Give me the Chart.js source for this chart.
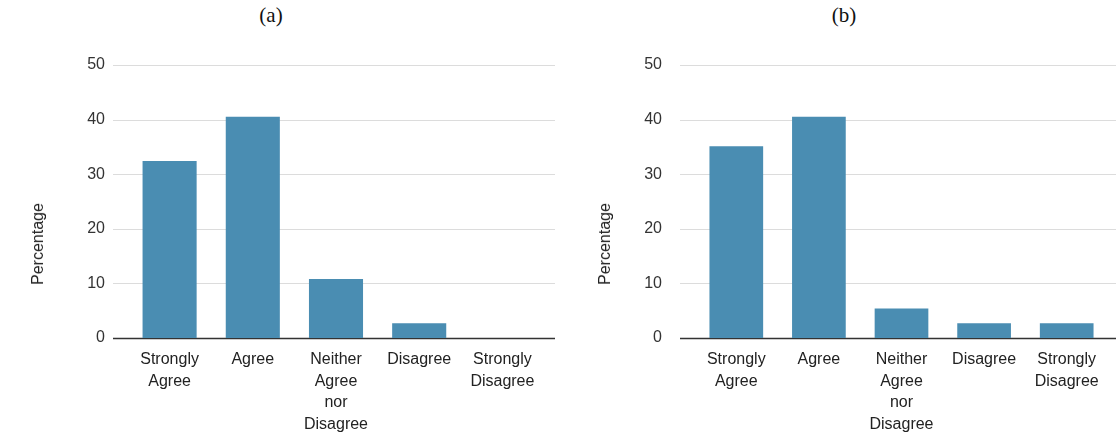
<!DOCTYPE html>
<html>
<head>
<meta charset="utf-8">
<script src="https://cdn.jsdelivr.net/npm/chart.js@4/dist/chart.umd.min.js"></script>
<style>
  body { margin: 0; background: #fff; width: 1116px; height: 436px; overflow: hidden; position: relative; }
  .title { position: absolute; top: 3px; font-family: 'Liberation Serif', 'Times New Roman', serif; font-size: 21px; color: #111; transform: translateX(-50%); }
  .box { position: absolute; top: 0; width: 558px; height: 436px; }
  .ylab { position: absolute; top: 244px; font-family: 'Liberation Sans', Arial, sans-serif; font-size: 16px; color: #222;
          white-space: nowrap; transform: translate(-50%, -50%) rotate(-90deg); z-index: 2; }
</style>
</head>
<body>
<div class="title" style="left:271px">(a)</div>
<div class="title" style="left:844px">(b)</div>
<div class="box" style="left:0"><canvas id="chartA"></canvas></div>
<div class="box" style="left:558px"><canvas id="chartB"></canvas></div>
<div class="ylab" style="left:38px">Percentage</div>
<div class="ylab" style="left:605px">Percentage</div>
<script>
const categories = ['Strongly Agree', 'Agree', 'Neither Agree nor Disagree', 'Disagree', 'Strongly Disagree'];
const categoryLines = [['Strongly', 'Agree'], ['Agree'], ['Neither', 'Agree', 'nor', 'Disagree'], ['Disagree'], ['Strongly', 'Disagree']];
const valuesA = [32.4, 40.5, 10.8, 2.7, 0];
const valuesB = [35.1, 40.5, 5.4, 2.7, 2.7];
const yTicks = [0, 10, 20, 30, 40, 50];

const barColor = '#4a8db2';
const font = 'Liberation Sans, Arial, sans-serif';

// horizontal grid lines that run a bit past the bars, like the original
const gridLines = {
  id: 'gridLines',
  beforeDatasetsDraw(chart, args, opts) {
    const ctx = chart.ctx;
    const area = chart.chartArea;
    const y = chart.scales.y;
    ctx.save();
    yTicks.forEach(function(v) {
      const py = Math.round(y.getPixelForValue(v)) + 0.5;
      ctx.beginPath();
      ctx.strokeStyle = v === 0 ? '#333' : '#dcdcdc';
      ctx.lineWidth = v === 0 ? 1.5 : 1;
      ctx.moveTo(area.left - opts.extLeft, py);
      ctx.lineTo(area.right + opts.extRight, py);
      ctx.stroke();
    });
    ctx.restore();
  }
};

function makeChart(id, values, c) {
  return new Chart(document.getElementById(id), {
    type: 'bar',
    data: {
      labels: categoryLines,
      datasets: [{
        label: 'Percentage',
        data: values,
        backgroundColor: barColor,
        barPercentage: 0.65,
        categoryPercentage: 1
      }]
    },
    options: {
      responsive: true,
      maintainAspectRatio: false,
      animation: false,
      layout: { padding: { top: 65, right: c.right, bottom: 0, left: 0 } },
      plugins: {
        legend: { display: false },
        tooltip: { enabled: false },
        gridLines: { extLeft: c.extLeft, extRight: c.extRight }
      },
      scales: {
        x: {
          grid: { display: false },
          border: { display: false },
          ticks: {
            autoSkip: false, maxRotation: 0, padding: 3,
            color: '#222', font: { family: font, size: 16, lineHeight: 1.35 }
          },
          afterFit: function(s) { s.height = 98; }
        },
        y: {
          min: 0, max: 50,
          grid: { display: false, drawTicks: false },
          border: { display: false },
          ticks: {
            stepSize: 10, padding: c.tickPad,
            color: '#333', font: { family: font, size: 16 }
          },
          afterFit: function(s) { s.width = c.left; }
        }
      }
    },
    plugins: [gridLines]
  });
}

makeChart('chartA', valuesA, { left: 128, right: 14, tickPad: 23, extLeft: 15, extRight: 11 });
makeChart('chartB', valuesB, { left: 137, right: 8, tickPad: 33, extLeft: 15, extRight: 8 });
</script>
</body>
</html>
